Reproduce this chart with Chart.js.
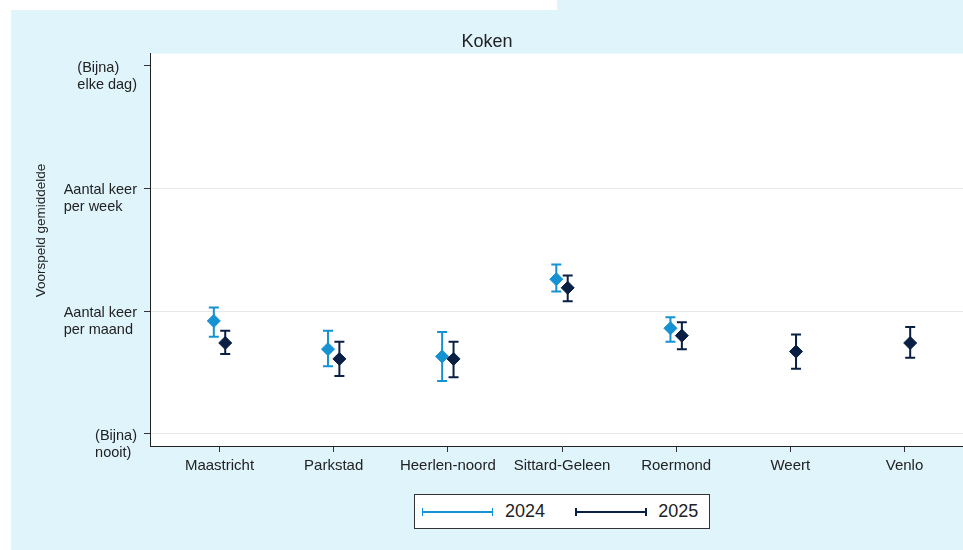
<!DOCTYPE html>
<html><head><meta charset="utf-8">
<script src="https://cdn.jsdelivr.net/npm/chart.js@4.4.1/dist/chart.umd.min.js"></script>
<style>
html,body{margin:0;padding:0;background:#fff;overflow:hidden;width:963px;height:550px;position:relative;font-family:'Liberation Sans',Arial,sans-serif;}
#bgA{position:absolute;left:11px;top:10px;width:952px;height:540px;background:#e0f4fc;}
#bgB{position:absolute;left:557px;top:0;width:406px;height:10px;background:#e0f4fc;}
#c{position:absolute;left:0;top:0;}
#legend{position:absolute;left:414px;top:494px;width:296px;height:35px;box-sizing:border-box;border:1px solid #333;background:#fff;}
.sample{position:absolute;top:16px;height:1.5px;}
.sample::before,.sample::after{content:'';position:absolute;top:-3px;width:1.5px;height:8px;background:inherit;}
.sample::before{left:0}.sample::after{right:0}
.lab{position:absolute;top:0;line-height:33px;font-size:18px;color:#222;}
</style></head>
<body>
<div id="bgA"></div><div id="bgB"></div>
<canvas id="c" width="1006" height="550" style="width:1006px;height:550px"></canvas>
<div id="legend"></div>
<script>
const categories = ['Maastricht','Parkstad','Heerlen-noord','Sittard-Geleen','Roermond','Weert','Venlo'];
const yTickValues = [1,2,3,4];
const yTickLabels = [['(Bijna)','nooit)'],['Aantal keer','per maand'],['Aantal keer','per week'],['(Bijna)','elke dag)']];
const chartTitle = 'Koken';
const yAxisTitle = 'Voorspeld gemiddelde';
const seriesNames = ['2024','2025'];
const mean2024 = [1.92, 1.69, 1.63, 2.26, 1.86, null, null];
const low2024  = [1.79, 1.55, 1.43, 2.16, 1.75, null, null];
const high2024 = [2.03, 1.84, 1.83, 2.38, 1.95, null, null];
const mean2025 = [1.74, 1.61, 1.61, 2.19, 1.80, 1.67, 1.74];
const low2025  = [1.65, 1.47, 1.46, 2.08, 1.69, 1.53, 1.62];
const high2025 = [1.84, 1.75, 1.75, 2.29, 1.91, 1.81, 1.87];

const COLORS = {'2024':'#1592d1','2025':'#0a1f44'};
const FONT = "'Liberation Sans', Arial, sans-serif";
const TEXT = '#222';
const SHIFT = 0.05;

function build(mean, low, high, shift){
  const out = [];
  mean.forEach((m,i)=>{ if(m!==null) out.push({x:i+1+shift, y:m, lo:low[i], hi:high[i]}); });
  return out;
}

const datasets = [
  {label:seriesNames[0], data:build(mean2024,low2024,high2024,-SHIFT), order:1},
  {label:seriesNames[1], data:build(mean2025,low2025,high2025,SHIFT), order:0}
].map(d=>Object.assign(d,{
  backgroundColor:COLORS[d.label], borderColor:COLORS[d.label], borderWidth:1,
  pointStyle:'rectRot', pointRadius:6.5, pointHoverRadius:6.5, showLine:false
}));

const plotBg = {
  id:'plotBg',
  beforeDraw(chart){
    const {ctx, chartArea:a} = chart;
    ctx.save(); ctx.fillStyle = '#fff';
    ctx.fillRect(a.left, a.top, a.right-a.left, a.bottom-a.top);
    ctx.restore();
  }
};

const errorBars = {
  id:'errorBars',
  beforeDatasetDraw(chart, args){
    const ds = chart.data.datasets[args.index];
    const xs = chart.scales.x, ys = chart.scales.y, ctx = chart.ctx;
    ctx.save();
    ctx.strokeStyle = ds.borderColor; ctx.lineWidth = 2;
    ds.data.forEach(d=>{
      const px = xs.getPixelForValue(d.x);
      const y1 = ys.getPixelForValue(d.lo), y2 = ys.getPixelForValue(d.hi);
      ctx.beginPath();
      ctx.moveTo(px,y1); ctx.lineTo(px,y2);
      ctx.moveTo(px-5,y1); ctx.lineTo(px+5,y1);
      ctx.moveTo(px-5,y2); ctx.lineTo(px+5,y2);
      ctx.stroke();
    });
    ctx.restore();
  }
};

const yLabels = {
  id:'yLabels',
  afterDraw(chart){
    const ys = chart.scales.y, ctx = chart.ctx;
    ctx.save();
    ctx.fillStyle = TEXT;
    ctx.font = '14.5px ' + FONT;
    ctx.textAlign = 'left'; ctx.textBaseline = 'alphabetic';
    const rightEdge = ys.right - 6 - 7;
    yTickValues.forEach((v,i)=>{
      const lines = yTickLabels[i];
      const py = ys.getPixelForValue(v);
      const w = Math.max(...lines.map(l=>ctx.measureText(l).width));
      lines.forEach((l,k)=>{ ctx.fillText(l, rightEdge - w, py + 6 + k*17); });
    });
    ctx.font = '13.5px ' + FONT;
    ctx.translate(41, 230.5);
    ctx.rotate(-Math.PI/2);
    ctx.textAlign = 'center'; ctx.textBaseline = 'middle';
    ctx.fillText(yAxisTitle, 0, 0);
    ctx.restore();
  }
};

Chart.defaults.font.family = FONT;
Chart.defaults.color = TEXT;

new Chart(document.getElementById('c'), {
  type:'scatter',
  data:{datasets},
  options:{
    responsive:false, devicePixelRatio:1, animation:false,
    layout:{padding:{left:0,right:32,top:0,bottom:0}},
    plugins:{
      legend:{display:false}, tooltip:{enabled:false},
      title:{display:true, text:chartTitle, color:TEXT, font:{size:18, weight:'normal'}, padding:{top:31,bottom:1}}
    },
    scales:{
      x:{type:'linear', min:0.391, max:7.609,
        afterBuildTicks:s=>{ s.ticks = categories.map((c,i)=>({value:i+1})); },
        ticks:{callback:v=>categories[Math.round(v)-1] ?? '', font:{size:15}, color:TEXT, padding:5, maxRotation:0, autoSkip:false},
        grid:{drawOnChartArea:false, drawTicks:true, tickLength:6, tickColor:'#333', tickWidth:1},
        border:{display:true, color:'#222', width:1},
        afterFit:s=>{ s.height = 104; }
      },
      y:{type:'linear', min:0.9, max:4.1,
        afterBuildTicks:s=>{ s.ticks = yTickValues.map(v=>({value:v})); },
        ticks:{display:false},
        grid:{color:c=>(c.tick && c.tick.value===4) ? 'rgba(0,0,0,0)' : '#e8e8e8', lineWidth:1, drawTicks:true, tickLength:6, tickColor:'#333', tickWidth:1},
        border:{display:true, color:'#222', width:1},
        afterFit:s=>{ s.width = 150; }
      }
    }
  },
  plugins:[plotBg, errorBars, yLabels]
});

// legend (HTML)
const leg = document.getElementById('legend');
const legPos = [{s:6.7, t:90},{s:160, t:243.3}];
seriesNames.forEach((n,i)=>{
  const s = document.createElement('div');
  s.className = 'sample';
  s.style.left = legPos[i].s + 'px'; s.style.width = '71.6px'; s.style.background = COLORS[n];
  leg.appendChild(s);
  const t = document.createElement('div');
  t.className = 'lab'; t.style.left = legPos[i].t + 'px'; t.textContent = n;
  leg.appendChild(t);
});
</script>
</body></html>
